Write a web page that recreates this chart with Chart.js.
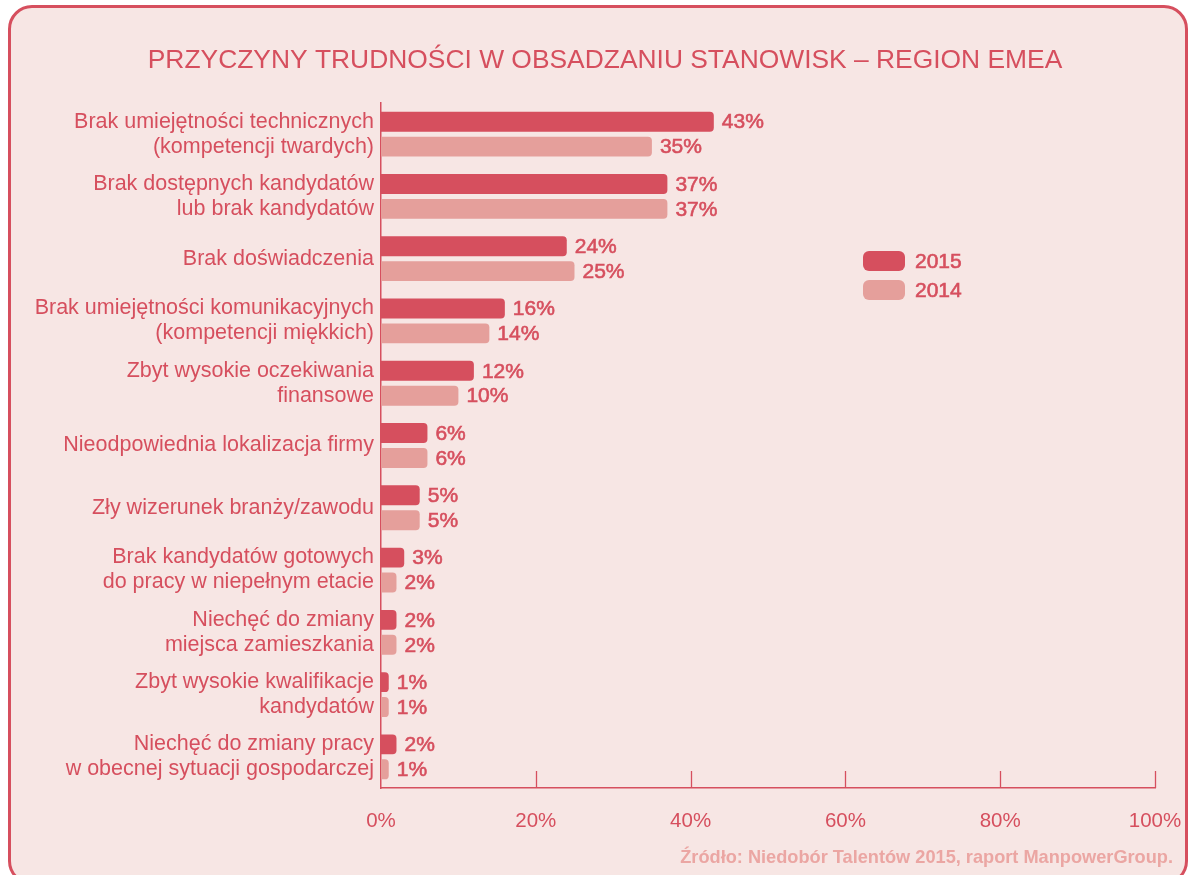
<!DOCTYPE html>
<html>
<head>
<meta charset="utf-8">
<script src="https://cdn.jsdelivr.net/npm/chart.js@4/dist/chart.umd.min.js"></script>
<style>
  html, body { margin:0; padding:0; background:#ffffff; width:1189px; height:875px; overflow:hidden; }
  #box { position:absolute; left:8px; top:5px; width:1180px; height:880px; box-sizing:border-box;
         border:3px solid #d64f5e; border-radius:24px; background:#f7e6e4; }
  #wrap { position:absolute; left:0; top:0; width:1189px; height:875px; }
</style>
</head>
<body>
<div id="box"></div>
<div id="wrap"><canvas id="c" width="1189" height="875"></canvas></div>
<script>
const categories = [
  ["Brak umiejętności technicznych", "(kompetencji twardych)"],
  ["Brak dostępnych kandydatów", "lub brak kandydatów"],
  "Brak doświadczenia",
  ["Brak umiejętności komunikacyjnych", "(kompetencji miękkich)"],
  ["Zbyt wysokie oczekiwania", "finansowe"],
  "Nieodpowiednia lokalizacja firmy",
  "Zły wizerunek branży/zawodu",
  ["Brak kandydatów gotowych", "do pracy w niepełnym etacie"],
  ["Niechęć do zmiany", "miejsca zamieszkania"],
  ["Zbyt wysokie kwalifikacje", "kandydatów"],
  ["Niechęć do zmiany pracy", "w obecnej sytuacji gospodarczej"]
];
const series2015 = [43, 37, 24, 16, 12, 6, 5, 3, 2, 1, 2];
const series2014 = [35, 37, 25, 14, 10, 6, 5, 2, 2, 1, 1];
const seriesNames = ["2015", "2014"];
const xTicks = [0, 20, 40, 60, 80, 100];
const titleText = "PRZYCZYNY TRUDNOŚCI W OBSADZANIU STANOWISK – REGION EMEA";
const sourceText = "Źródło: Niedobór Talentów 2015, raport ManpowerGroup.";

const RED = "#d64f5e";
const PINK = "#e59f9b";
const FONT = "'Liberation Sans', Arial, Helvetica, sans-serif";

function mediumText(ctx, text, x, y, color) {
  ctx.fillStyle = color;
  ctx.strokeStyle = color;
  ctx.lineWidth = 0.6;
  ctx.fillText(text, x, y);
  ctx.strokeText(text, x, y);
}

const decorPlugin = {
  id: 'decor',
  afterDraw(chart) {
    const ctx = chart.ctx;
    const x = chart.scales.x, y = chart.scales.y;
    ctx.save();
    // title
    ctx.fillStyle = RED;
    ctx.font = "26.4px " + FONT;
    ctx.textAlign = "center";
    ctx.textBaseline = "middle";
    ctx.fillText(titleText, 605, 61);
    // upward tick marks
    ctx.strokeStyle = RED;
    ctx.lineWidth = 1.3;
    xTicks.forEach(v => {
      if (v === 0) return;
      const px = Math.round(x.getPixelForValue(v)) + 0.5;
      ctx.beginPath();
      ctx.moveTo(px, y.bottom);
      ctx.lineTo(px, y.bottom - 17);
      ctx.stroke();
    });
    // value labels
    ctx.font = "21px " + FONT;
    ctx.textAlign = "left";
    ctx.textBaseline = "middle";
    chart.data.datasets.forEach((ds, di) => {
      const meta = chart.getDatasetMeta(di);
      meta.data.forEach((bar, i) => {
        mediumText(ctx, ds.data[i] + "%", bar.x + 8, bar.y + 1, RED);
      });
    });
    // legend
    const lx = 863, ly = [261, 290];
    chart.data.datasets.forEach((ds, di) => {
      ctx.fillStyle = ds.backgroundColor;
      ctx.beginPath();
      ctx.roundRect(lx, ly[di] - 10, 42, 20, 6);
      ctx.fill();
      ctx.font = "21px " + FONT;
      mediumText(ctx, ds.label, 915, ly[di] + 1, RED);
    });
    // source
    ctx.fillStyle = "#eba6a3";
    ctx.font = "bold 18.2px " + FONT;
    ctx.textAlign = "right";
    ctx.fillText(sourceText, 1173, 858);
    ctx.restore();
  }
};

new Chart(document.getElementById('c'), {
  type: 'bar',
  data: {
    labels: categories,
    datasets: [
      { label: seriesNames[0], data: series2015, backgroundColor: RED },
      { label: seriesNames[1], data: series2014, backgroundColor: PINK }
    ]
  },
  options: {
    indexAxis: 'y',
    responsive: false,
    animation: false,
    devicePixelRatio: 1,
    layout: { padding: { top: 103, right: 34, left: 0, bottom: 0 } },
    datasets: { bar: { categoryPercentage: 0.8, barPercentage: 0.8, borderRadius: 4, borderSkipped: 'start' } },
    plugins: { legend: { display: false }, title: { display: false }, tooltip: { enabled: false } },
    scales: {
      x: {
        min: 0, max: 100,
        afterFit(s) { s.height = 87; s.paddingLeft = 0; s.paddingRight = 0; },
        afterBuildTicks(s) { s.ticks = xTicks.map(v => ({ value: v })); },
        grid: { display: false, drawTicks: false },
        border: { display: true, color: RED, width: 1.5 },
        ticks: { color: RED, font: { family: FONT, size: 20.5 }, padding: 21, callback: v => v + "%" }
      },
      y: {
        afterFit(s) { s.width = 381; s.paddingTop = 0; s.paddingBottom = 0; },
        grid: { display: false, drawTicks: false },
        border: { display: true, color: RED, width: 1.5 },
        ticks: { color: RED, font: { family: FONT, size: 21.5, lineHeight: 1.16 }, padding: 7 }
      }
    }
  },
  plugins: [decorPlugin]
});
</script>
</body>
</html>
